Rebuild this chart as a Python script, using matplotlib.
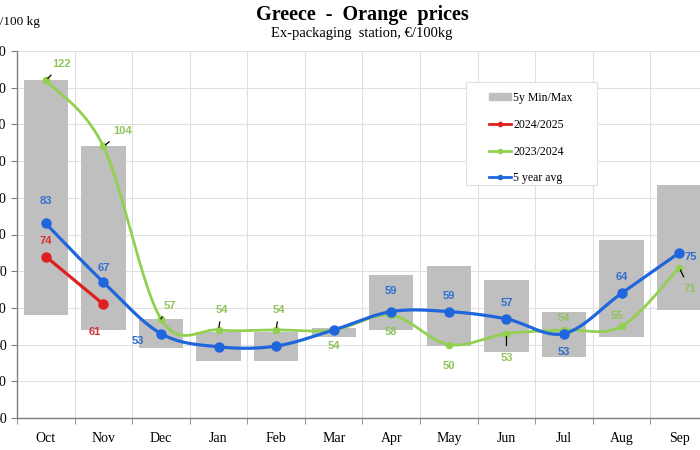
import numpy as np
import matplotlib.pyplot as plt
from matplotlib.patches import Patch, Rectangle
from matplotlib.lines import Line2D

months = ['Oct', 'Nov', 'Dec', 'Jan', 'Feb', 'Mar', 'Apr', 'May', 'Jun', 'Jul', 'Aug', 'Sep']

# 5 year min / max band
bar_min = [58, 54, 49, 45.5, 45.5, 52, 54, 49.5, 48, 46.5, 52, 59.5]
bar_max = [122, 104, 57, 53.5, 53.5, 54.5, 69, 71.5, 67.5, 59, 78.5, 93.5]

season_2425 = [74, 61]
season_2324 = [122, 104, 57, 54, 54, 54, 58, 50, 53, 54, 55, 71]
avg_5y = [83, 67, 53, 49.4, 49.6, 54, 59, 59, 57, 53, 64, 75]

GREEN = '#92d050'
GREEN_TXT = '#8fc45a'
BLUE = '#1f66dd'
BLUE_TXT = '#2f6fd0'
RED = '#e01f1f'
RED_TXT = '#d83030'
GREY = '#bfbfbf'


def smooth(xs, ys, n=30):
    # excel style smoothed line (catmull-rom through the points)
    xs = np.asarray(xs, float)
    ys = np.asarray(ys, float)
    if len(xs) < 3:
        return xs, ys
    px, py = [], []
    for i in range(len(xs) - 1):
        i0 = max(i - 1, 0)
        i3 = min(i + 2, len(xs) - 1)
        p0 = np.array([xs[i0], ys[i0]])
        p1 = np.array([xs[i], ys[i]])
        p2 = np.array([xs[i + 1], ys[i + 1]])
        p3 = np.array([xs[i3], ys[i3]])
        c1 = p1 + (p2 - p0) / 6
        c2 = p2 - (p3 - p1) / 6
        t = np.linspace(0, 1, n)[:, None]
        seg = ((1 - t) ** 3) * p1 + 3 * ((1 - t) ** 2) * t * c1 + 3 * (1 - t) * t ** 2 * c2 + t ** 3 * p2
        px.extend(seg[:, 0])
        py.extend(seg[:, 1])
    return np.array(px), np.array(py)


fig = plt.figure(figsize=(7, 4.5), dpi=100)
ax = fig.add_axes([17 / 700, 32 / 450, 691 / 700, 367 / 450])

x = np.arange(len(months))

ax.bar(x, np.array(bar_max) - np.array(bar_min), bottom=bar_min, width=0.77,
       color=GREY, zorder=2)

sx, sy = smooth(x, season_2324)
ax.plot(sx, sy, color=GREEN, lw=2.0, zorder=3)
ax.plot(x, season_2324, 'o', color=GREEN, ms=4.5, zorder=3)

sx, sy = smooth(x, avg_5y)
ax.plot(sx, sy, color=BLUE, lw=2.3, zorder=4)
ax.plot(x, avg_5y, 'o', color=BLUE, ms=6.5, zorder=4)

x_r = x[:len(season_2425)]
ax.plot(x_r, season_2425, '-o', color=RED, lw=2.3, ms=6.5, zorder=5)

# data labels: (series, index, offset px, leader line)
px = 72 / 100
labels = [
    (season_2324, 0, (16, 16), True, GREEN_TXT),
    (season_2324, 1, (19, 15), True, GREEN_TXT),
    (season_2324, 2, (9, 13), True, GREEN_TXT),
    (season_2324, 3, (3, 20), True, GREEN_TXT),
    (season_2324, 4, (3, 20), True, GREEN_TXT),
    (season_2324, 5, (0, -16), False, GREEN_TXT),
    (season_2324, 6, (0, -17), False, GREEN_TXT),
    (season_2324, 7, (0, -21), False, GREEN_TXT),
    (season_2324, 8, (0, -24), True, GREEN_TXT),
    (season_2324, 9, (0, 12), False, GREEN_TXT),
    (season_2324, 10, (-5, 10), False, GREEN_TXT),
    (season_2324, 11, (10, -21), True, GREEN_TXT),
    (avg_5y, 0, (0, 22), False, BLUE_TXT),
    (avg_5y, 1, (0, 14), False, BLUE_TXT),
    (avg_5y, 2, (-23, -7), False, BLUE_TXT),
    (avg_5y, 6, (0, 21), False, BLUE_TXT),
    (avg_5y, 7, (0, 16), False, BLUE_TXT),
    (avg_5y, 8, (0, 16), False, BLUE_TXT),
    (avg_5y, 9, (0, -18), False, BLUE_TXT),
    (avg_5y, 10, (0, 16), False, BLUE_TXT),
    (avg_5y, 11, (12, -4), False, BLUE_TXT),
    (season_2425, 0, (0, 16), False, RED_TXT),
    (season_2425, 1, (-9, -28), False, RED_TXT),
]
for ser, i, (dx, dy), leader, col in labels:
    props = None
    if leader:
        props = dict(arrowstyle='-', color='black', lw=0.9, shrinkA=3, shrinkB=2)
    ax.annotate(f'{ser[i]:.0f}', (x[i], ser[i]), xytext=(dx * px, dy * px),
                textcoords='offset points', ha='center', va='center',
                fontsize=8, fontfamily='Liberation Sans', color=col,
                fontweight='bold', arrowprops=props, zorder=6)

ax.set_xlim(-0.5, 11.5)
ax.set_ylim(30, 130)
ax.set_yticks(np.arange(30, 131, 10))
ax.set_xticks(x)
ax.set_xticklabels(months)
ax.set_xticks(np.arange(-0.5, 12, 1), minor=True)
ax.tick_params(axis='x', which='major', length=0, pad=10)
ax.tick_params(axis='x', which='minor', length=4, color='#808080')
ax.tick_params(axis='y', length=4, color='#808080')
for lab in ax.get_xticklabels() + ax.get_yticklabels():
    lab.set_fontfamily('Liberation Serif')
    lab.set_fontsize(10)
ax.grid(True, axis='y', color='#e0e0e0', lw=0.8, zorder=0)
ax.grid(True, axis='x', which='minor', color='#e0e0e0', lw=0.8, zorder=0)
ax.set_axisbelow(True)
for s in ['top', 'right']:
    ax.spines[s].set_visible(False)
for s in ['left', 'bottom']:
    ax.spines[s].set_color('#808080')
    ax.spines[s].set_linewidth(1.0)

# legend box drawn separately so the side padding can be wider than the top padding
fig.patches.append(Rectangle((466 / 700, 1 - 185 / 450), 131 / 700, 103 / 450,
                             transform=fig.transFigure, facecolor='white',
                             edgecolor='#e0e0e0', lw=0.8, zorder=4))
handles = [
    Patch(color=GREY),
    Line2D([], [], color=RED, lw=2, marker='o', ms=3),
    Line2D([], [], color=GREEN, lw=2, marker='o', ms=3),
    Line2D([], [], color=BLUE, lw=2, marker='o', ms=3),
]
leg = fig.legend(handles, ['5y Min/Max', '2024/2025', '2023/2024', '5 year avg'],
                 loc='upper left', bbox_to_anchor=(489 / 700, 1 - 92 / 450),
                 prop={'family': 'Liberation Serif', 'size': 8.5},
                 frameon=False, borderpad=0, labelspacing=1.25, handlelength=1.9,
                 handletextpad=0.15, handleheight=0.5, borderaxespad=0)
leg.set_zorder(5)

fig.text(362 / 700, 1 - 15 / 450, 'Greece  -  Orange  prices', ha='center', va='center',
         fontsize=14.5, fontweight='bold', fontfamily='Liberation Serif')
fig.text(362 / 700, 1 - 33 / 450, 'Ex-packaging  station, €/100kg', ha='center', va='center',
         fontsize=10.5, fontfamily='Liberation Serif')
fig.text(40 / 700, 1 - 22 / 450, '€/100 kg', ha='right', va='center',
         fontsize=9.5, fontfamily='Liberation Serif')

fig.savefig('out.png', dpi=100)
